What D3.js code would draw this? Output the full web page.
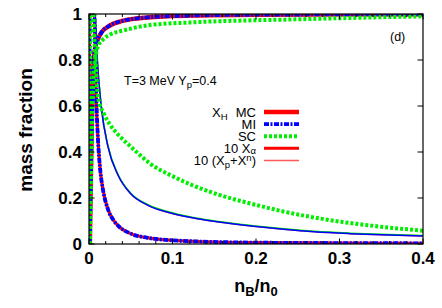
<!DOCTYPE html>
<html><head><meta charset="utf-8">
<script src="https://cdn.jsdelivr.net/npm/d3@7"></script>
<style>body{margin:0;background:#fff}svg{display:block}text{font-family:"Liberation Sans",Arial,Helvetica,sans-serif}</style>
</head><body>
<svg id="c" width="442" height="308"></svg>
<script>
// ---- data (n_B/n_0, value) ----
const xTicks = [0, 0.1, 0.2, 0.3, 0.4];
const yTicks = [0, 0.2, 0.4, 0.6, 0.8, 1];
const xTickLabels = ["0", "0.1", "0.2", "0.3", "0.4"];
const yTickLabels = ["0", "0.2", "0.4", "0.6", "0.8", "1"];

const xH_MC = [[0.001,0],[0.002,0.25],[0.003,0.45],[0.004,0.62],[0.005,0.74],[0.006,0.81],[0.0075,0.855],[0.01,0.885],[0.015,0.92],[0.025,0.95],[0.04,0.97],[0.07,0.985],[0.12,0.993],[0.2,0.997],[0.4,0.999]];
const xH_MI = [[0.001,0],[0.002,0.25],[0.003,0.45],[0.004,0.62],[0.005,0.74],[0.006,0.81],[0.0075,0.855],[0.01,0.885],[0.015,0.92],[0.025,0.95],[0.04,0.97],[0.07,0.985],[0.12,0.993],[0.2,0.997],[0.4,0.999]];
const xH_SC = [[0.001,0],[0.002,0.22],[0.003,0.42],[0.004,0.58],[0.005,0.69],[0.0065,0.78],[0.0085,0.83],[0.011,0.86],[0.017,0.89],[0.025,0.91],[0.043,0.93],[0.073,0.952],[0.12,0.963],[0.25,0.977],[0.4,0.99]];

const xA_MC = [[0,0],[0.0005,0.5],[0.001,1.2],[0.003,1.6],[0.0055,1.2],[0.0075,0.8],[0.009,0.6],[0.0108,0.452],[0.0135,0.32],[0.0168,0.235],[0.0228,0.15],[0.03,0.1],[0.0347,0.08],[0.05,0.045],[0.07,0.027],[0.1,0.016],[0.13,0.011],[0.2,0.006],[0.3,0.004],[0.4,0.003]];
const xA_MI = [[0,0],[0.0005,0.5],[0.001,1.2],[0.003,1.6],[0.0055,1.2],[0.0075,0.8],[0.009,0.6],[0.0108,0.452],[0.0135,0.32],[0.0168,0.235],[0.0228,0.15],[0.03,0.1],[0.0347,0.08],[0.05,0.045],[0.07,0.027],[0.1,0.016],[0.13,0.011],[0.2,0.006],[0.3,0.004],[0.4,0.003]];
const xA_SC = [[0,0],[0.0005,0.5],[0.001,1.2],[0.003,1.5],[0.005,1.05],[0.007,0.85],[0.009,0.72],[0.011,0.635],[0.018,0.565],[0.025,0.52],[0.035,0.475],[0.045,0.44],[0.06,0.39],[0.073,0.35],[0.1,0.295],[0.121,0.26],[0.153,0.217],[0.2,0.17],[0.232,0.142],[0.27,0.115],[0.313,0.091],[0.35,0.075],[0.4,0.058]];

const xPN_MC = [[0.0005,6],[0.003,2.2],[0.007,1.05],[0.0085,0.9],[0.0099,0.8],[0.0147,0.596],[0.0228,0.422],[0.0347,0.3],[0.05,0.218],[0.0707,0.168],[0.1,0.133],[0.13,0.11],[0.153,0.097],[0.2,0.076],[0.233,0.064],[0.27,0.053],[0.313,0.045],[0.35,0.04],[0.4,0.035]];
const xPN_MI = [[0.0005,6],[0.003,2.2],[0.007,1.05],[0.0085,0.9],[0.0099,0.8],[0.0147,0.596],[0.0228,0.422],[0.0347,0.3],[0.05,0.218],[0.0707,0.168],[0.1,0.133],[0.13,0.11],[0.153,0.097],[0.2,0.076],[0.233,0.064],[0.27,0.053],[0.313,0.045],[0.35,0.04],[0.4,0.035]];
const xPN_SC = [[0.0005,6],[0.003,2.2],[0.007,1.06],[0.0085,0.91],[0.0099,0.81],[0.0147,0.6],[0.0228,0.426],[0.0347,0.303],[0.05,0.221],[0.0707,0.171],[0.1,0.136],[0.13,0.112],[0.153,0.099],[0.2,0.078],[0.233,0.066],[0.27,0.055],[0.313,0.047],[0.35,0.042],[0.4,0.037]];

const legendLabels = ["MC", "MI", "SC", "10 X\u03b1", "10 (Xp+Xn)"];

// ---- layout ----
const svg = d3.select("#c");
const L = 89, R = 423, T = 14, B = 244;
const x = d3.scaleLinear().domain([0, 0.4]).range([L, R]);
const y = d3.scaleLinear().domain([0, 1]).range([B, T]);

const RED = "#ff0000", BLUE = "#0000ff", GREEN = "#00ee00", LRED = "#ff5a5a";
const styles = {
  MC:   {stroke: RED, w: 4.5, dash: null},
  MI:   {stroke: BLUE, w: 3.8, dash: "5,1.5,2,1.5"},
  SC:   {stroke: GREEN, w: 4, dash: "3,2"},
  aMC:  {stroke: RED, w: 3, dash: null},
  pMC:  {stroke: LRED, w: 1.5, dash: null},
  pMI:  {stroke: BLUE, w: 1.5, dash: null},
  pSC:  {stroke: GREEN, w: 1.5, dash: null}
};

svg.append("defs").append("clipPath").attr("id", "clip")
  .append("rect").attr("x", L).attr("y", T).attr("width", R - L).attr("height", B - T);

const line = d3.line().x(d => x(d[0])).y(d => y(d[1])).curve(d3.curveMonotoneX);
const g = svg.append("g").attr("clip-path", "url(#clip)");
function draw(data, s) {
  g.append("path").datum(data).attr("d", line).attr("fill", "none")
    .attr("stroke", s.stroke).attr("stroke-width", s.w)
    .attr("stroke-dasharray", s.dash).attr("stroke-linejoin", "round");
}
draw(xH_MC, styles.MC);
draw(xA_MC, styles.aMC);
draw(xPN_MC, styles.pMC);
draw(xPN_SC, styles.pSC);
draw(xH_MI, styles.MI);
draw(xA_MI, styles.MI);
draw(xPN_MI, styles.pMI);
draw(xH_SC, styles.SC);
draw(xA_SC, styles.SC);

// ---- axes (ticks inward on all sides) ----
const ax = svg.append("g").attr("stroke", "#000").attr("stroke-width", 1);
const xMinor = d3.range(0, 0.4001, 0.02).filter(v => Math.abs(v * 10 - Math.round(v * 10)) > 1e-6);
xMinor.forEach(v => {
  ax.append("line").attr("x1", x(v)).attr("x2", x(v)).attr("y1", B).attr("y2", B - 3);
  ax.append("line").attr("x1", x(v)).attr("x2", x(v)).attr("y1", T).attr("y2", T + 3);
});
xTicks.forEach(v => {
  ax.append("line").attr("x1", x(v)).attr("x2", x(v)).attr("y1", B).attr("y2", B - 5.5);
  ax.append("line").attr("x1", x(v)).attr("x2", x(v)).attr("y1", T).attr("y2", T + 5.5);
});
yTicks.forEach(v => {
  ax.append("line").attr("x1", L).attr("x2", L + 5.5).attr("y1", y(v)).attr("y2", y(v));
  ax.append("line").attr("x1", R).attr("x2", R - 5.5).attr("y1", y(v)).attr("y2", y(v));
});
svg.append("rect").attr("x", L).attr("y", T).attr("width", R - L).attr("height", B - T)
  .attr("fill", "none").attr("stroke", "#000").attr("stroke-width", 1.2);

xTicks.forEach((v, i) => {
  svg.append("text").attr("x", x(v)).attr("y", 263.5).attr("text-anchor", "middle")
    .attr("font-size", 17).attr("font-weight", "bold").text(xTickLabels[i]);
});
yTicks.forEach((v, i) => {
  svg.append("text").attr("x", 82).attr("y", y(v) + 6).attr("text-anchor", "end")
    .attr("font-size", 17).attr("font-weight", "bold").text(yTickLabels[i]);
});

// axis titles
const xl = svg.append("text").attr("x", 256).attr("y", 292).attr("text-anchor", "middle")
  .attr("font-size", 18).attr("font-weight", "bold");
xl.append("tspan").text("n");
xl.append("tspan").attr("dy", 4).attr("font-size", 13).text("B");
xl.append("tspan").attr("dy", -4).text("/n");
xl.append("tspan").attr("dy", 4).attr("font-size", 13).text("0");

svg.append("text").attr("transform", "translate(32,130) rotate(-90)").attr("text-anchor", "middle")
  .attr("font-size", 19).attr("font-weight", "bold").text("mass fraction");

// annotations
const tt = svg.append("text").attr("x", 124).attr("y", 85).attr("font-size", 12.5);
tt.append("tspan").text("T=3 MeV Y");
tt.append("tspan").attr("dy", 3).attr("font-size", 9.5).text("p");
tt.append("tspan").attr("dy", -3).text("=0.4");
svg.append("text").attr("x", 390).attr("y", 41).attr("font-size", 12.5).text("(d)");

// legend
const lx1 = 264, lx2 = 299, ly0 = 112, ldy = 12.1, tx = 256;
const legStyles = [styles.MC, styles.MI, styles.SC, styles.aMC, styles.pMC];
legStyles.forEach((s, i) => {
  const yy = ly0 + i * ldy;
  svg.append("line").attr("x1", lx1).attr("x2", lx2).attr("y1", yy).attr("y2", yy)
    .attr("stroke", s.stroke).attr("stroke-width", s.w).attr("stroke-dasharray", s.dash);
});
function ltext(i) { return svg.append("text").attr("x", tx).attr("y", ly0 + i * ldy + 4.5).attr("text-anchor", "end").attr("font-size", 13); }
const t0h = svg.append("text").attr("x", 212).attr("y", ly0 + 4.5).attr("font-size", 13);
t0h.append("tspan").text("X");
t0h.append("tspan").attr("dy", 3).attr("font-size", 9.5).text("H");
ltext(0).text(legendLabels[0]);
ltext(1).text(legendLabels[1]);
ltext(2).text(legendLabels[2]);
const t3 = ltext(3);
t3.append("tspan").text("10 X");
t3.append("tspan").attr("dy", 1).attr("font-size", 9.5).text("\u03b1");
const t4 = ltext(4);
t4.append("tspan").text("10 (X");
t4.append("tspan").attr("dy", 3).attr("font-size", 9.5).text("p");
t4.append("tspan").attr("dy", -3).text("+X");
t4.append("tspan").attr("dy", -4).attr("font-size", 9.5).text("n");
t4.append("tspan").attr("dy", 4).text(")");
</script>
</body></html>
